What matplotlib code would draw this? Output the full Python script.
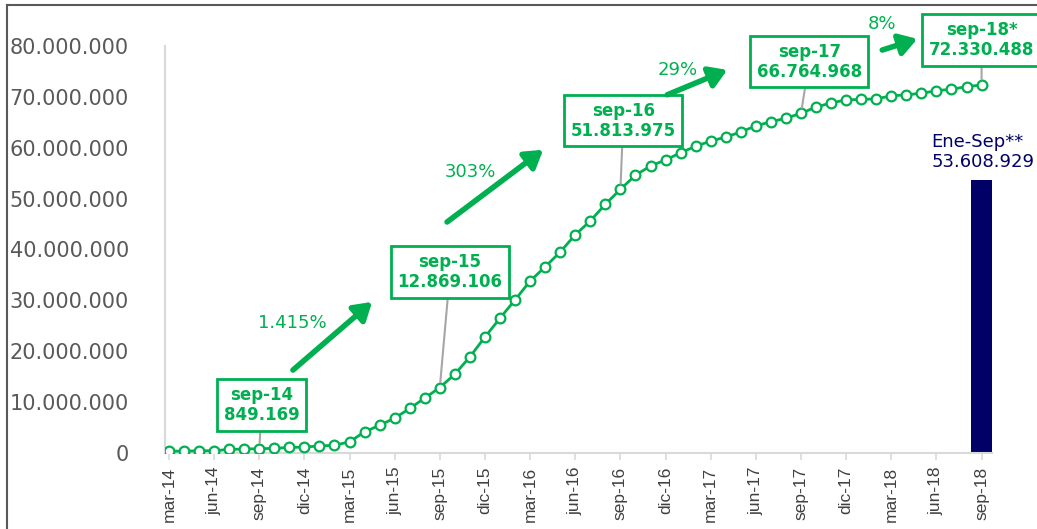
import matplotlib
matplotlib.use("Agg")
import matplotlib.pyplot as plt
from matplotlib.lines import Line2D
from matplotlib.patches import FancyArrowPatch
from matplotlib.ticker import FuncFormatter

# cumulative monthly values, mar-14 .. sep-18
values = [
    350000, 380000, 420000, 450000, 700000, 780000, 849169, 900000, 1100000,
    1150000, 1400000, 1500000, 2200000, 4150000, 5450000, 6850000, 8750000,
    10800000, 12869106, 15500000, 18900000, 22800000, 26500000, 30100000,
    33800000, 36600000, 39500000, 42900000, 45600000, 48900000, 51813975,
    54600000, 56400000, 57600000, 59000000, 60300000, 61300000, 62100000,
    63100000, 64300000, 65100000, 65800000, 66764968, 68000000, 68800000,
    69400000, 69500000, 69600000, 70200000, 70400000, 70700000, 71200000,
    71500000, 72000000, 72330488,
]
tick_labels = ["mar-14", "jun-14", "sep-14", "dic-14", "mar-15", "jun-15",
               "sep-15", "dic-15", "mar-16", "jun-16", "sep-16", "dic-16",
               "mar-17", "jun-17", "sep-17", "dic-17", "mar-18", "jun-18",
               "sep-18"]

# highlighted points (index into values) and their box labels
callout_idx = [6, 18, 30, 42, 54]
callout_names = ["sep-14", "sep-15", "sep-16", "sep-17", "sep-18*"]
growth_labels = ["1.415%", "303%", "29%", "8%"]

bar_idx = 54
bar_value = 53608929
bar_label = "Ene-Sep**"

GREEN = "#00B050"
NAVY = "#000066"

def fmt(v):
    return f"{int(round(v)):,}".replace(",", ".")

fig = plt.figure(figsize=(10.37, 5.29), dpi=100)
ax = fig.add_axes([0.159, 0.1437, 0.798, 0.7694])

x = list(range(len(values)))
ax.bar(bar_idx, bar_value, width=1.45, color=NAVY, zorder=1)
ax.plot(x, values, color=GREEN, lw=2, marker="o", ms=7, mfc="white",
        mec=GREEN, mew=1.6, zorder=3)

ax.set_xlim(-0.27, 54.72)
ax.set_ylim(0, 80000000)
ax.set_yticks(range(0, 80000001, 10000000))
ax.yaxis.set_major_formatter(FuncFormatter(lambda v, p: fmt(v)))
ax.set_xticks(range(0, len(values), 3))
ax.set_xticklabels(tick_labels, rotation=90, family="Liberation Sans",
                   fontsize=12.5, color="#404040")
ax.tick_params(axis="y", length=0, labelsize=15, labelcolor="#595959", pad=26)
ax.tick_params(axis="x", length=5, color="#d9d9d9", width=1.2, pad=5)
for s in ["top", "right"]:
    ax.spines[s].set_visible(False)
ax.spines["left"].set_color("#d9d9d9")
ax.spines["bottom"].set_color("#d9d9d9")
ax.spines["left"].set_linewidth(1.5)
ax.spines["bottom"].set_linewidth(1.5)

# box callouts (text position in data units)
box_pos = [(6.18, 9.43e6), (18.68, 35.6e6), (30.19, 65.3e6),
           (42.55, 76.9e6), (54.0, 81.2e6)]
for i, name, pos in zip(callout_idx, callout_names, box_pos):
    ax.annotate(f"{name}\n{fmt(values[i])}", xy=(i, values[i]), xytext=pos,
                ha="center", va="center", fontsize=12, fontweight="bold",
                color=GREEN, linespacing=1.15, annotation_clip=False,
                bbox=dict(boxstyle="square,pad=0.4", fc="white", ec=GREEN,
                          lw=2),
                arrowprops=dict(arrowstyle="-", color="#A6A6A6", lw=1.5,
                                shrinkA=0, shrinkB=4),
                zorder=4)

# growth arrows and percentages
arrows = [((8.24, 16.3e6), (13.5, 29.7e6)),
          ((18.48, 45.4e6), (24.87, 59.6e6)),
          ((33.11, 70.4e6), (37.1, 75.3e6)),
          ((47.4, 79.2e6), (49.73, 81.4e6))]
pct_pos = [(8.18, 25.55e6), (20.01, 55.2e6), (33.78, 75.3e6), (47.4, 84.3e6)]
for (a, b), lab, pp in zip(arrows, growth_labels, pct_pos):
    arr = FancyArrowPatch(a, b, arrowstyle="-|>,head_length=0.8,head_width=0.5",
                          mutation_scale=13, color=GREEN, lw=4,
                          shrinkA=0, shrinkB=0, clip_on=False, zorder=4)
    ax.add_patch(arr)
    ax.text(pp[0], pp[1], lab, ha="center", va="center", fontsize=13,
            color=GREEN, clip_on=False)

ax.text(50.66, 59.2e6, f"{bar_label}\n{fmt(bar_value)}", ha="left",
        va="center", fontsize=13, color=NAVY, linespacing=1.15,
        clip_on=False)

# outer frame of the original crop
fig.add_artist(Line2D([7 / 1037, 1], [1 - 5 / 529, 1 - 5 / 529],
                      color="#595959", lw=1.5))
fig.add_artist(Line2D([7 / 1037, 7 / 1037], [0, 1 - 5 / 529],
                      color="#595959", lw=1.5))

fig.savefig("out.png", dpi=100)
